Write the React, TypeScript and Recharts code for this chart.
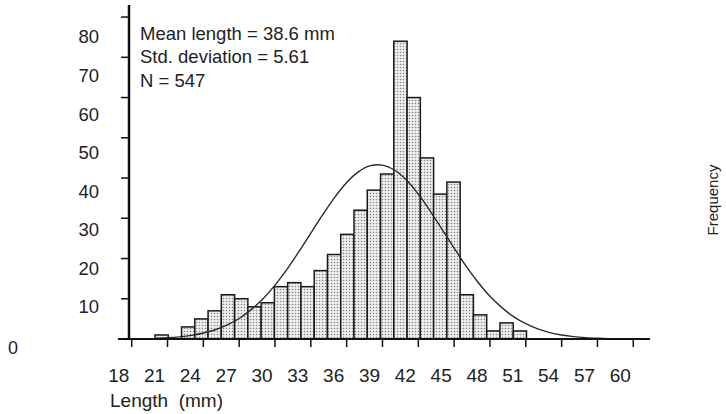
import React from 'react';
import { ComposedChart, Bar, Line, XAxis, YAxis, ReferenceLine } from 'recharts';

// Histogram frequencies (bins; sum = 547)
const frequencies = [1, 0, 3, 5, 7, 11, 10, 8, 9, 13, 14, 13, 17, 21, 26, 32, 37, 41, 74, 60, 45, 36, 39, 11, 6, 2, 4, 2];
const binStart = 19.95;
const binWidth = 1.111;

// Fitted normal curve
const curveX = [20, 21, 22, 23, 24, 25, 26, 27, 28, 29, 30, 31, 32, 33, 34, 35, 36, 37, 38, 38.6, 39, 40, 41, 42, 43, 44, 45, 46, 47, 48, 49, 50, 51, 52, 53, 54, 55, 56, 57, 58];
const curveY = [0.18, 0.32, 0.54, 0.9, 1.5, 2.3, 3.5, 5.1, 7.3, 10.0, 13.4, 17.3, 21.7, 26.3, 30.9, 35.2, 38.9, 41.6, 43.1, 43.3, 43.2, 42.0, 39.5, 36.0, 31.8, 27.2, 22.6, 18.1, 14.1, 10.6, 7.8, 5.5, 3.8, 2.5, 1.6, 1.0, 0.6, 0.35, 0.2, 0.1];

const xTicks = [18, 21, 24, 27, 30, 33, 36, 39, 42, 45, 48, 51, 54, 57, 60];
const yTicks = [0, 10, 20, 30, 40, 50, 60, 70, 80];
const statLines = ['Mean length = 38.6 mm', 'Std. deviation = 5.61', 'N = 547'];
const xTitle = 'Length  (mm)';
const yTitle = 'Frequency';

const barData = frequencies.map((f, i) => ({ x: binStart + binWidth * (i + 0.5), freq: f }));
const curveData = curveX.map((x, i) => ({ x, y: curveY[i] }));

const FONT = '"Liberation Sans", Arial, Helvetica, sans-serif';
const INK = '#222';
const BAR_PX = 13.27;

const YTick = (props: any) => {
  const { y, payload } = props;
  const v = payload.value as number;
  if (v === 0) {
    return (
      <text x={13} y={y + 9} textAnchor="middle" dominantBaseline="central" fontSize={18} fontFamily={FONT} fill={INK}>
        {v}
      </text>
    );
  }
  return (
    <text x={99} y={y + 8 + (v - 10) * 0.17} textAnchor="end" dominantBaseline="central" fontSize={18.5} fontFamily={FONT} fill={INK}>
      {v}
    </text>
  );
};

const XTick = (props: any) => {
  const { x, y, payload } = props;
  return (
    <text x={x - 13} y={y + 26} textAnchor="middle" dominantBaseline="central" fontSize={19} fontFamily={FONT} fill={INK}>
      {payload.value}
    </text>
  );
};

const HistBar = (props: any) => {
  const { x, y, width, height } = props;
  if (!height || height <= 0) return null;
  const cx = x + width / 2;
  return (
    <rect
      x={cx - BAR_PX / 2}
      y={y}
      width={BAR_PX}
      height={height}
      fill="url(#dots)"
      stroke="#1a1a1a"
      strokeWidth={1.5}
    />
  );
};

export default function App() {
  return (
    <div style={{ position: 'absolute', left: 0, top: 0 }}>
      <ComposedChart
        width={726}
        height={414}
        data={barData}
        margin={{ top: 5, right: 76, left: 0, bottom: 15 }}
      >
        <defs>
          <pattern id="dots" width="3" height="3" patternUnits="userSpaceOnUse">
            <rect width="3" height="3" fill="#eeeeee" />
            <circle cx="1.5" cy="1.5" r="0.8" fill="#858585" />
          </pattern>
        </defs>
        <XAxis
          dataKey="x"
          type="number"
          domain={[17.774, 61.4]}
          allowDataOverflow
          ticks={xTicks}
          interval={0}
          height={60}
          tickSize={8}
          axisLine={{ stroke: '#111', strokeWidth: 2 }}
          tickLine={{ stroke: '#111', strokeWidth: 1.5 }}
          tick={<XTick />}
        />
        <YAxis
          type="number"
          domain={[0, 83]}
          allowDataOverflow
          ticks={yTicks}
          interval={0}
          width={129}
          tickSize={8}
          axisLine={{ stroke: '#111', strokeWidth: 2.5 }}
          tickLine={{ stroke: '#111', strokeWidth: 1.5 }}
          tick={<YTick />}
        />
        <ReferenceLine
          segment={[{ x: 16.853, y: 0 }, { x: 17.774, y: 0 }]}
          ifOverflow="visible"
          stroke="#111"
          strokeWidth={2}
        />
        <Bar
          dataKey="freq"
          fill="url(#dots)"
          stroke="#1a1a1a"
          strokeWidth={1.5}
          shape={<HistBar />}
          isAnimationActive={false}
        />
        <Line
          data={curveData}
          dataKey="y"
          type="monotone"
          stroke="#2a2a2a"
          strokeWidth={1.4}
          dot={false}
          activeDot={false}
          isAnimationActive={false}
        />
        {statLines.map((s, i) => (
          <text key={s} x={140} y={33 + i * 23.5} dominantBaseline="central" fontSize={18.5} fontFamily={FONT} fill={INK}>
            {s}
          </text>
        ))}
        <text x={110} y={400} dominantBaseline="central" fontSize={19} fontFamily={FONT} fill={INK} style={{ whiteSpace: 'pre' }}>
          {xTitle}
        </text>
        <text
          x={712}
          y={200}
          transform="rotate(-90 712 200)"
          textAnchor="middle"
          dominantBaseline="central"
          fontSize={15}
          fontFamily={FONT}
          fill={INK}
        >
          {yTitle}
        </text>
      </ComposedChart>
    </div>
  );
}
